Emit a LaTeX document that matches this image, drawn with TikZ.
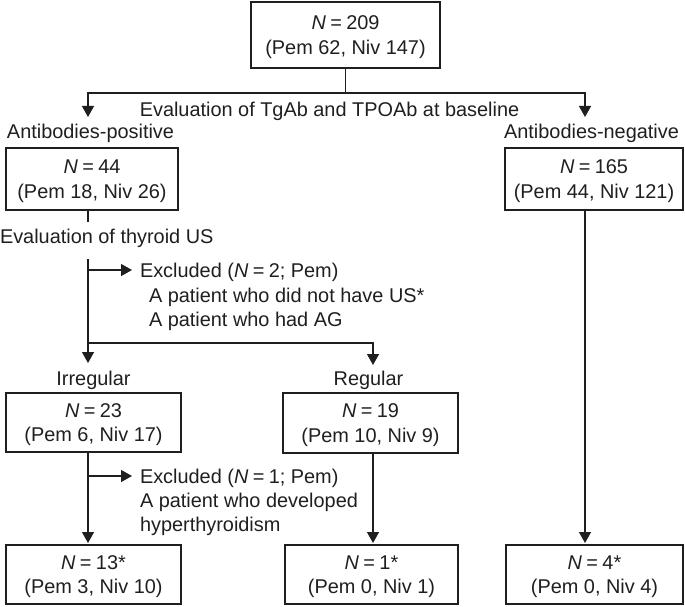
\documentclass[tikz,border=0pt]{standalone}
\usepackage{fontspec}
\setmainfont{Liberation Sans}
\usetikzlibrary{arrows.meta}
\definecolor{ink}{gray}{0.12}
\newcommand{\lastln}[1]{\raisebox{0pt}[\height][0pt]{#1}}
\newcommand{\NN}{\textit{N}\hspace{0.22em}=\hspace{0.22em}}
\begin{document}
\begin{tikzpicture}[x=1pt,y=-1pt,
  every node/.style={text=ink, font=\fontsize{19.9}{24.5}\selectfont, inner sep=0pt, outer sep=0pt},
  box/.style={draw=ink, line width=1.8pt, align=center},
  conn/.style={draw=ink, line width=1.3pt},
  arr/.style={conn, -{Triangle[width=12pt,length=11pt]}},
  lbl/.style={anchor=base},
  lblw/.style={anchor=base west}]
\useasboundingbox (0,0) rectangle (685,607);

% boxes
\node[box, minimum width=189pt, minimum height=66pt] (top) at (345.5,35) {\NN 209\\\lastln{(Pem 62, Niv 147)}};
\node[box, minimum width=172pt, minimum height=62pt] (pos) at (92,179) {\NN 44\\\lastln{(Pem 18, Niv 26)}};
\node[box, minimum width=178pt, minimum height=62pt] (neg) at (594,179) {\NN 165\\\lastln{(Pem 44, Niv 121)}};
\node[box, minimum width=175pt, minimum height=59pt] (irr) at (93.5,422.5) {\NN 23\\\lastln{(Pem 6, Niv 17)}};
\node[box, minimum width=175pt, minimum height=60pt] (reg) at (370.5,423) {\NN 19\\\lastln{(Pem 10, Niv 9)}};
\node[box, minimum width=175pt, minimum height=59pt] (b1) at (93.5,574.5) {\NN 13*\\\lastln{(Pem 3, Niv 10)}};
\node[box, minimum width=173pt, minimum height=59pt] (b2) at (371.5,574.5) {\NN 1*\\\lastln{(Pem 0, Niv 1)}};
\node[box, minimum width=177pt, minimum height=59pt] (b3) at (594.5,574.5) {\NN 4*\\\lastln{(Pem 0, Niv 4)}};

% labels
\node[lbl] (evalAb) at (329.5,117) {Evaluation of TgAb and TPOAb at baseline};
\node[lbl] (posL) at (90.5,139) {Antibodies-positive};
\node[lbl] (negL) at (591.5,139) {Antibodies-negative};
\node[lblw] (evalUS) at (0,243) {Evaluation of thyroid US};
\node[lblw] (ex1) at (140,277) {Excluded (\NN 2; Pem)};
\node[lblw] (ex1a) at (149,302) {A patient who did not have US*};
\node[lblw] (ex1b) at (149,326) {A patient who had AG};
\node[lbl] (irrL) at (93.5,385) {Irregular};
\node[lbl] (regL) at (368.5,385) {Regular};
\node[lblw] (ex2) at (140,483) {Excluded (\NN 1; Pem)};
\node[lblw] (ex2a) at (140,507) {A patient who developed};
\node[lblw] (ex2b) at (140,531) {hyperthyroidism};

% trunk coordinates
\coordinate (tL) at (88,0);
\coordinate (tR) at (373,0);
\coordinate (tN) at (585,0);
\coordinate (j1) at (345.5,93);
\coordinate (pTip) at (88,117);
\coordinate (nTip) at (585,117);
\coordinate (usTop) at (88,222);
\coordinate (usBot) at (88,259);
\coordinate (irrTip) at (88,363);
\coordinate (ex1s) at (88,270);
\coordinate (ex1t) at (132,270);
\coordinate (sp) at (88,343);
\coordinate (regTip) at (373,365);
\coordinate (ex2s) at (88,476);
\coordinate (ex2t) at (132,476);
\coordinate (b1Tip) at (88,543);
\coordinate (b2Tip) at (373,543);
\coordinate (b3Tip) at (585,543);

% connectors
\draw[conn] (top.south) -- (j1);
\draw[arr] (j1) -| (pTip);
\draw[arr] (j1) -| (nTip);
\draw[conn] (pos.south -| tL) -- (usTop);
\draw[arr] (usBot) -- (irrTip);
\draw[arr] (ex1s) -- (ex1t);
\draw[arr] (sp) -| (regTip);
\draw[arr] (irr.south -| tL) -- (b1Tip);
\draw[arr] (ex2s) -- (ex2t);
\draw[arr] (reg.south -| tR) -- (b2Tip);
\draw[arr] (neg.south -| tN) -- (b3Tip);
\end{tikzpicture}
\end{document}
